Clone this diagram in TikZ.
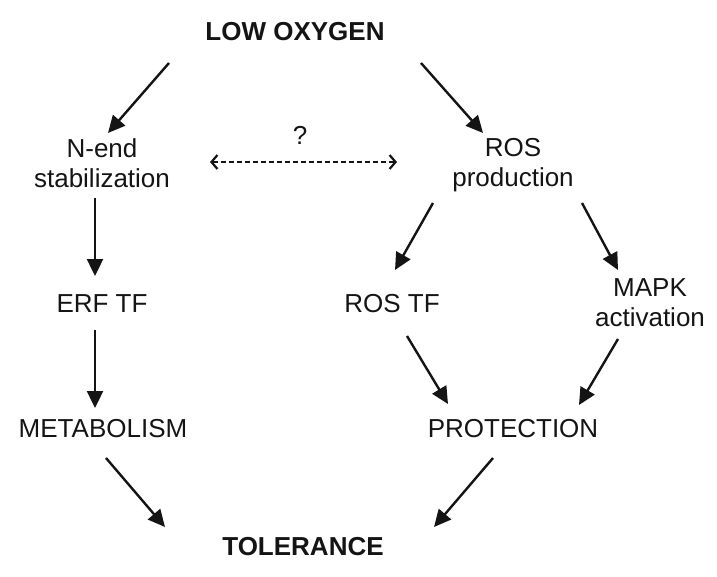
\documentclass[tikz,border=0pt]{standalone}
\usepackage{fontspec}
\setmainfont{Liberation Sans}
\usetikzlibrary{arrows.meta}
\begin{document}
\begin{tikzpicture}[x=1pt,y=-1pt,
  lbl/.style={inner sep=0pt,font=\fontsize{26}{30}\selectfont,align=center,text=black!92},
  blbl/.style={lbl,font=\fontsize{26}{30}\selectfont\bfseries},
  arr/.style={line width=2.4pt,draw=black!92,-{Triangle[length=17pt,width=16pt]}},
  darr/.style={line width=2.2pt,draw=black!92,dash pattern=on 5pt off 3pt,{Straight Barb[length=6pt,width=14pt,line width=2.2pt]}-{Straight Barb[length=6pt,width=14pt,line width=2.2pt]}}]
\useasboundingbox (0,0) rectangle (717,576);
\node[blbl,anchor=base] (lo) at (295,40) {LOW OXYGEN};
\node[lbl] (ne) at (102,163.5) {N-end\\stabilization};
\node[lbl,anchor=base] (q) at (300,144) {?};
\node[lbl] (ros) at (513,165) {ROS\\production};
\node[lbl,anchor=base] (erf) at (102,312) {ERF TF};
\node[lbl,anchor=base] (rtf) at (392,312) {ROS TF};
\node[lbl] (mapk) at (650,302.5) {MAPK\\activation};
\node[lbl,anchor=base] (met) at (103,437) {METABOLISM};
\node[lbl,anchor=base] (prot) at (513,437) {PROTECTION};
\node[blbl,anchor=base] (tol) at (303,555) {TOLERANCE};
% connector ends
\coordinate (a1s) at (169,63);  \coordinate (a1e) at (108,133);
\coordinate (a2s) at (421,63);  \coordinate (a2e) at (483,133);
\coordinate (a3s) at (95,198);  \coordinate (a3e) at (95,276);
\coordinate (a4s) at (95,330);  \coordinate (a4e) at (95,408);
\coordinate (a5s) at (433,203); \coordinate (a5e) at (395,270);
\coordinate (a6s) at (582,203); \coordinate (a6e) at (618,270);
\coordinate (a7s) at (407,336); \coordinate (a7e) at (448,404);
\coordinate (a8s) at (618,339); \coordinate (a8e) at (579,405);
\coordinate (a9s) at (106,458); \coordinate (a9e) at (165,527);
\coordinate (a10s) at (493,458); \coordinate (a10e) at (434,527);
\coordinate (ds) at (210,162); \coordinate (de) at (397,162);
\draw[arr] (a1s) -- (a1e);
\draw[arr] (a2s) -- (a2e);
\draw[arr] (a3s) -- (a3e);
\draw[arr] (a4s) -- (a4e);
\draw[arr] (a5s) -- (a5e);
\draw[arr] (a6s) -- (a6e);
\draw[arr] (a7s) -- (a7e);
\draw[arr] (a8s) -- (a8e);
\draw[arr] (a9s) -- (a9e);
\draw[arr] (a10s) -- (a10e);
\draw[darr] (ds) -- (de);
\end{tikzpicture}
\end{document}
